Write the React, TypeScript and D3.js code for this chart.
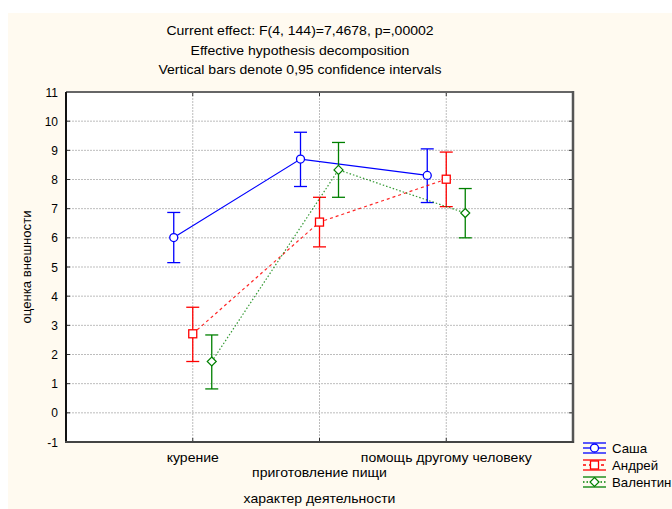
import React from 'react';
import * as d3 from 'd3';

const categories = ['курение', 'приготовление пищи', 'помощь другому человеку'];
const seriesNames = ['Саша', 'Андрей', 'Валентин'];
const seriesColors = ['#0000ff', '#ff0000', '#008000'];
const means = [
  [6.01, 8.7, 8.14],
  [2.71, 6.54, 8.01],
  [1.76, 8.33, 6.85],
];
const lower = [
  [5.15, 7.76, 7.21],
  [1.76, 5.69, 7.07],
  [0.82, 7.39, 6.0],
];
const upper = [
  [6.87, 9.62, 9.05],
  [3.62, 7.39, 8.94],
  [2.67, 9.27, 7.69],
];
const yTicks = d3.range(-1, 12);
const titleLines = [
  'Current effect: F(4, 144)=7,4678, p=,00002',
  'Effective hypothesis decomposition',
  'Vertical bars denote 0,95 confidence intervals',
];

const W = 672;
const H = 509;
const plot = { left: 66, top: 92, right: 573, bottom: 442 };
const font = 'Liberation Sans, Arial, sans-serif';
const dashes = ['none', '3,3', '1.5,2'];
const lineOpacity = [1, 0.85, 0.8];
const stretch = 1.08;

// text that is slightly wider than the font, like the reference
const T = ({ x, y, size = 13, anchor = 'middle', sx = stretch, children }: any) => (
  <text transform={`translate(${x},${y}) scale(${sx},1)`} textAnchor={anchor} fontSize={size}>
    {children}
  </text>
);

const Marker = ({ i, x, y }: { i: number; x: number; y: number }) => {
  const c = seriesColors[i];
  if (i === 0) return <circle cx={x} cy={y} r={4} fill="#fff" stroke={c} strokeWidth={1.3} />;
  if (i === 1) return <rect x={x - 4} y={y - 4} width={8} height={8} fill="#fff" stroke={c} strokeWidth={1.3} />;
  return (
    <path
      d={`M${x},${y - 4.5}L${x + 4.5},${y}L${x},${y + 4.5}L${x - 4.5},${y}Z`}
      fill="#fff"
      stroke={c}
      strokeWidth={1.2}
    />
  );
};

export default function App() {
  const y = d3.scaleLinear().domain([-1, 11]).range([plot.bottom, plot.top]);
  const x = d3
    .scalePoint<string>()
    .domain(categories)
    .range([plot.left, plot.right])
    .padding(1);
  const offset = d3.scalePoint<string>().domain(seriesNames).range([-19, 19]);
  const quarters = d3.range(1, 4).map((k) => plot.left + ((plot.right - plot.left) * k) / 4);

  const line = d3
    .line<[number, number]>()
    .x((d) => d[0])
    .y((d) => d[1]);

  return (
    <svg width={W} height={H} style={{ position: 'absolute', left: 0, top: 0 }} fontFamily={font}>
      <rect x={8} y={13} width={W - 8} height={H - 13} fill="#fffaf0" />
      <rect x={plot.left} y={plot.top} width={plot.right - plot.left} height={plot.bottom - plot.top} fill="#fff" />

      {titleLines.map((t, i) => (
        <T key={t} x={300} y={35 + i * 19.5}>
          {t}
        </T>
      ))}

      {/* grid */}
      <g stroke="#bdbdbd" strokeWidth={1} strokeDasharray="2,1">
        {yTicks.slice(1, -1).map((t) => (
          <line key={t} x1={plot.left} x2={plot.right} y1={y(t)} y2={y(t)} />
        ))}
        {quarters.map((q) => (
          <line key={q} x1={q} x2={q} y1={plot.top} y2={plot.bottom} />
        ))}
      </g>

      {/* series */}
      {seriesNames.map((s, i) => {
        const pts: [number, number][] = categories.map((c, j) => [x(c)! + offset(s)!, y(means[i][j])]);
        return (
          <g key={s}>
            <path
              d={line(pts)!}
              fill="none"
              stroke={seriesColors[i]}
              strokeWidth={1.2}
              strokeDasharray={dashes[i]}
              opacity={lineOpacity[i]}
            />
            {categories.map((c, j) => {
              const cx = x(c)! + offset(s)!;
              return (
                <g key={c} stroke={seriesColors[i]} strokeWidth={1.3}>
                  <line x1={cx} x2={cx} y1={y(lower[i][j])} y2={y(upper[i][j])} />
                  <line x1={cx - 6.5} x2={cx + 6.5} y1={y(lower[i][j])} y2={y(lower[i][j])} />
                  <line x1={cx - 6.5} x2={cx + 6.5} y1={y(upper[i][j])} y2={y(upper[i][j])} />
                </g>
              );
            })}
            {pts.map((p, j) => (
              <Marker key={j} i={i} x={p[0]} y={p[1]} />
            ))}
          </g>
        );
      })}

      {/* frame */}
      <g stroke="#333" strokeWidth={1}>
        {yTicks.map((t) => (
          <g key={t}>
            <line x1={plot.left} x2={plot.left + 4} y1={y(t)} y2={y(t)} />
            <line x1={plot.right - 4} x2={plot.right} y1={y(t)} y2={y(t)} />
          </g>
        ))}
        {quarters.map((q) => (
          <g key={q}>
            <line x1={q} x2={q} y1={plot.top} y2={plot.top + 4} />
            <line x1={q} x2={q} y1={plot.bottom - 4} y2={plot.bottom} />
          </g>
        ))}
      </g>
      <line x1={plot.left} x2={plot.right} y1={plot.top} y2={plot.top} stroke="#666" strokeWidth={2} />
      <line x1={plot.left} x2={plot.left} y1={plot.top} y2={plot.bottom} stroke="#111" strokeWidth={2} />
      <line x1={plot.right} x2={plot.right} y1={plot.top - 1} y2={plot.bottom + 1} stroke="#555" strokeWidth={2.5} />
      <line x1={plot.left - 1} x2={plot.right + 1} y1={plot.bottom} y2={plot.bottom} stroke="#444" strokeWidth={2} />

      {/* y axis labels */}
      {yTicks.map((t) => (
        <T key={t} x={58} y={y(t) + 4.5} size={12} anchor="end" sx={1}>
          {t}
        </T>
      ))}
      <text transform={`translate(31,${(plot.top + plot.bottom) / 2})rotate(-90)`} textAnchor="middle" fontSize={13.2}>
        оценка внешности
      </text>

      {/* x axis labels */}
      {categories.map((c, j) => (
        <T key={c} x={x(c)!} y={j === 1 ? 477 : 462}>
          {c}
        </T>
      ))}
      <T x={x(categories[1])!} y={503}>
        характер деятельности
      </T>

      {/* legend */}
      {seriesNames.map((s, i) => {
        const ly = 448 + i * 17;
        return (
          <g key={s}>
            <g stroke={seriesColors[i]} strokeWidth={1.3}>
              <line x1={583} x2={606} y1={ly - 5} y2={ly - 5} />
              <line x1={583} x2={606} y1={ly + 5} y2={ly + 5} />
              <line x1={583} x2={606} y1={ly} y2={ly} strokeDasharray={dashes[i]} />
            </g>
            <Marker i={i} x={594.5} y={ly} />
            <T x={612} y={ly + 5} size={13} anchor="start" sx={1.02}>
              {s}
            </T>
          </g>
        );
      })}
    </svg>
  );
}
